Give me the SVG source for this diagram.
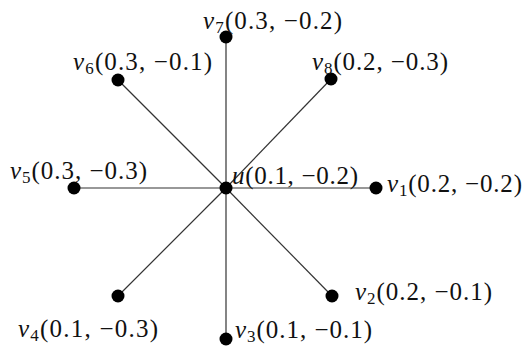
<svg xmlns="http://www.w3.org/2000/svg" width="526" height="349" viewBox="0 0 526 349">
<style>
.e{stroke:#333;stroke-width:1.2;fill:none}
.d{fill:#000}
text{font-family:"Liberation Serif","Times New Roman",serif;font-size:25px;fill:#111}
.v{font-style:italic}
.s{font-size:17px}
</style>
<rect width="526" height="349" fill="#fff"/>
<g id="connectors">
<line class="e" x1="226" y1="188" x2="226" y2="37"/>
<line class="e" x1="226" y1="188" x2="118" y2="80"/>
<line class="e" x1="226" y1="188" x2="331" y2="79"/>
<line class="e" x1="226" y1="188" x2="74" y2="188"/>
<line class="e" x1="226" y1="188" x2="376" y2="188"/>
<line class="e" x1="226" y1="188" x2="118" y2="296"/>
<line class="e" x1="226" y1="188" x2="332" y2="296"/>
<line class="e" x1="226" y1="188" x2="226" y2="339"/>
</g>
<g id="u"><circle class="d" cx="226" cy="188" r="6.5"/><text x="232" y="184" textLength="126" lengthAdjust="spacing"><tspan class="v">u</tspan>(0.1, −0.2)</text></g>
<g id="v1"><circle class="d" cx="376" cy="188" r="6.5"/><text x="387" y="192" textLength="135" lengthAdjust="spacing"><tspan class="v">v</tspan><tspan class="s" dy="4">1</tspan><tspan dy="-4">(0.2, −0.2)</tspan></text></g>
<g id="v2"><circle class="d" cx="332" cy="296" r="6.5"/><text x="355" y="300" textLength="137" lengthAdjust="spacing"><tspan class="v">v</tspan><tspan class="s" dy="4">2</tspan><tspan dy="-4">(0.2, −0.1)</tspan></text></g>
<g id="v3"><circle class="d" cx="226" cy="339" r="6.5"/><text x="235" y="338" textLength="137" lengthAdjust="spacing"><tspan class="v">v</tspan><tspan class="s" dy="4">3</tspan><tspan dy="-4">(0.1, −0.1)</tspan></text></g>
<g id="v4"><circle class="d" cx="118" cy="296" r="6.5"/><text x="18" y="337" textLength="140" lengthAdjust="spacing"><tspan class="v">v</tspan><tspan class="s" dy="4">4</tspan><tspan dy="-4">(0.1, −0.3)</tspan></text></g>
<g id="v5"><circle class="d" cx="74" cy="188" r="6.5"/><text x="10" y="179" textLength="137" lengthAdjust="spacing"><tspan class="v">v</tspan><tspan class="s" dy="4">5</tspan><tspan dy="-4">(0.3, −0.3)</tspan></text></g>
<g id="v6"><circle class="d" cx="118" cy="80" r="6.5"/><text x="73" y="70" textLength="139" lengthAdjust="spacing"><tspan class="v">v</tspan><tspan class="s" dy="4">6</tspan><tspan dy="-4">(0.3, −0.1)</tspan></text></g>
<g id="v7"><circle class="d" cx="226" cy="37" r="6.5"/><text x="203" y="29" textLength="139" lengthAdjust="spacing"><tspan class="v">v</tspan><tspan class="s" dy="4">7</tspan><tspan dy="-4">(0.3, −0.2)</tspan></text></g>
<g id="v8"><circle class="d" cx="331" cy="79" r="6.5"/><text x="312" y="70" textLength="136" lengthAdjust="spacing"><tspan class="v">v</tspan><tspan class="s" dy="4">8</tspan><tspan dy="-4">(0.2, −0.3)</tspan></text></g>
</svg>
